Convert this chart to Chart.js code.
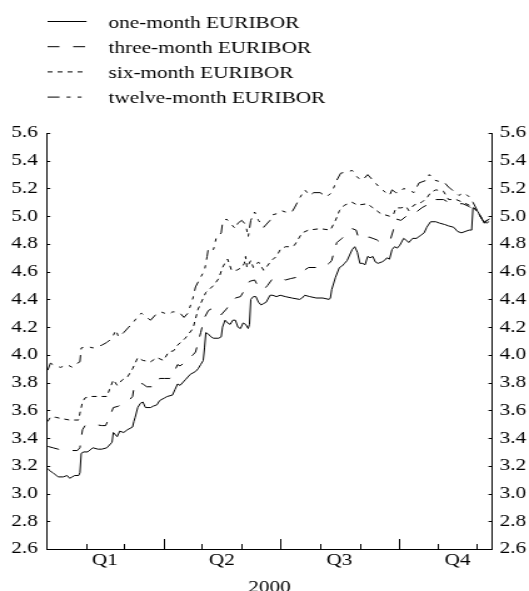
<!DOCTYPE html>
<html>
<head>
<meta charset="utf-8">
<script src="https://cdn.jsdelivr.net/npm/chart.js@4"></script>
<style>
html, body { margin: 0; padding: 0; background: #fff; }
</style>
</head>
<body>
<!-- drawn at 423px wide, shown at 529px: the reference figure is stretched sideways -->
<canvas id="euribor" width="423" height="591" style="display:block;width:529px;height:591px"></canvas>
<script>
'use strict';

// day of year 2000 (0 = 1 January) and rate in %
const oneMonthDays = [1,3,5,9,13,16,18,20,22,25,26,27,29,32,36,40,43,47,49,51,52,55,57,60,63,67,68,69,71,73,75,77,81,83,86,88,92,94,98,100,102,104,108,112,116,118,120,122,123,124,126,128,130,134,136,137,139,141,143,145,147,149,151,153,155,157,158,159,161,163,165,167,169,171,174,176,179,182,186,191,197,199,201,205,210,215,220,221,222,225,228,230,232,234,236,238,240,242,244,246,248,250,252,254,256,258,261,263,265,267,269,271,273,275,278,281,282,285,288,291,294,296,299,303,306,310,313,317,320,323,326,329,331,332,334,336,339,341,343,345];
const oneMonthRates = [3.18,3.16,3.15,3.12,3.12,3.13,3.11,3.12,3.13,3.13,3.15,3.29,3.30,3.30,3.33,3.32,3.32,3.33,3.35,3.37,3.44,3.41,3.45,3.44,3.46,3.48,3.52,3.55,3.62,3.65,3.66,3.62,3.62,3.63,3.64,3.67,3.69,3.70,3.71,3.75,3.79,3.78,3.82,3.86,3.88,3.90,3.93,3.96,4.05,4.16,4.15,4.13,4.12,4.12,4.13,4.20,4.25,4.23,4.22,4.25,4.25,4.20,4.19,4.23,4.22,4.19,4.22,4.40,4.42,4.42,4.38,4.36,4.37,4.38,4.43,4.43,4.42,4.43,4.42,4.41,4.40,4.41,4.43,4.42,4.41,4.41,4.40,4.41,4.47,4.56,4.63,4.64,4.66,4.68,4.72,4.76,4.78,4.74,4.66,4.66,4.65,4.71,4.70,4.71,4.67,4.66,4.67,4.68,4.70,4.69,4.76,4.78,4.77,4.79,4.84,4.82,4.81,4.84,4.84,4.86,4.88,4.92,4.96,4.96,4.95,4.94,4.93,4.92,4.89,4.88,4.89,4.90,4.90,5.06,5.05,5.03,4.98,4.95,4.97,4.98];

const threeMonthDays = [1,5,9,13,18,24,26,27,28,30,36,43,46,49,52,56,60,64,67,68,72,75,78,83,86,88,92,96,98,100,102,104,108,114,116,120,123,126,130,134,136,140,143,147,151,155,158,162,165,169,172,176,180,183,186,190,195,197,199,204,210,215,220,222,224,226,230,234,238,241,243,248,251,254,257,260,265,268,270,272,276,280,284,288,292,296,299,303,309,313,319,324,329,333,337,341,343,345];
const threeMonthRates = [3.34,3.33,3.32,3.31,3.31,3.31,3.33,3.40,3.46,3.49,3.50,3.49,3.49,3.55,3.62,3.63,3.65,3.67,3.70,3.76,3.80,3.79,3.77,3.77,3.78,3.83,3.83,3.83,3.84,3.89,3.93,3.92,3.95,4.00,4.02,4.16,4.27,4.32,4.34,4.32,4.29,4.33,4.37,4.41,4.42,4.48,4.53,4.54,4.49,4.47,4.50,4.55,4.55,4.55,4.54,4.55,4.56,4.57,4.60,4.63,4.63,4.63,4.66,4.68,4.75,4.81,4.84,4.88,4.91,4.90,4.84,4.84,4.85,4.84,4.83,4.81,4.83,4.84,4.90,4.98,4.97,5.00,5.00,5.03,5.06,5.08,5.12,5.12,5.12,5.10,5.09,5.09,5.07,5.04,5.01,4.95,4.97,4.96];

const sixMonthDays = [1,3,7,12,18,25,26,28,30,35,42,47,49,52,55,59,63,67,71,75,81,86,91,95,99,102,108,114,116,118,124,130,134,137,140,141,144,148,152,154,155,156,159,161,165,169,171,175,179,182,186,189,193,199,204,213,221,225,228,232,238,242,250,254,260,267,270,272,276,280,282,286,292,296,299,303,309,313,319,324,329,333,337,341,345];
const sixMonthRates = [3.52,3.55,3.55,3.54,3.53,3.53,3.58,3.66,3.69,3.70,3.70,3.70,3.75,3.82,3.78,3.82,3.84,3.90,3.98,3.96,3.95,3.98,3.96,4.02,4.03,4.07,4.12,4.19,4.26,4.33,4.45,4.50,4.55,4.63,4.68,4.69,4.61,4.61,4.63,4.66,4.71,4.63,4.68,4.63,4.67,4.61,4.63,4.68,4.71,4.76,4.78,4.78,4.79,4.88,4.90,4.91,4.90,4.97,5.04,5.08,5.10,5.08,5.09,5.06,5.02,5.00,5.01,5.06,5.06,5.07,5.04,5.08,5.10,5.13,5.17,5.19,5.18,5.12,5.12,5.10,5.08,5.06,5.01,4.96,4.98];

const twelveMonthDays = [1,3,7,11,16,20,24,26,27,32,36,43,47,51,54,56,60,64,68,72,74,78,81,85,89,92,95,98,102,104,107,110,114,116,120,123,125,126,130,132,136,137,140,143,147,149,152,155,157,159,162,165,169,174,176,180,183,186,191,193,197,201,205,208,213,218,222,226,229,234,238,242,246,250,254,256,260,267,269,272,275,278,284,286,290,296,298,302,306,310,313,317,321,325,329,332,336,340,343,345];
const twelveMonthRates = [3.89,3.94,3.92,3.91,3.93,3.91,3.94,3.95,4.05,4.06,4.05,4.07,4.09,4.12,4.18,4.13,4.16,4.20,4.24,4.29,4.30,4.27,4.25,4.29,4.31,4.30,4.29,4.31,4.31,4.30,4.27,4.30,4.41,4.49,4.56,4.61,4.71,4.77,4.76,4.84,4.88,4.95,4.98,4.95,4.91,4.95,4.97,4.94,4.85,4.97,5.03,4.97,4.92,4.97,5.01,5.02,5.04,5.03,5.03,5.06,5.13,5.19,5.15,5.17,5.17,5.14,5.17,5.26,5.31,5.32,5.33,5.28,5.26,5.30,5.26,5.24,5.20,5.15,5.19,5.17,5.17,5.20,5.18,5.17,5.24,5.26,5.30,5.26,5.25,5.24,5.21,5.18,5.15,5.17,5.14,5.10,5.03,4.96,4.95,4.97];

const quarterLabels = ['Q1', 'Q2', 'Q3', 'Q4'];
const quarterMid = [45.5, 136.5, 228, 320];
const monthStarts = [31, 60, 91, 121, 152, 182, 213, 244, 274, 305, 335];
const quarterStarts = [91, 182, 274];
const rateTicks = [2.6, 2.8, 3.0, 3.2, 3.4, 3.6, 3.8, 4.0, 4.2, 4.4, 4.6, 4.8, 5.0, 5.2, 5.4, 5.6];

const serif = '"Liberation Serif", "Times New Roman", serif';
Chart.defaults.font.family = serif;
Chart.defaults.font.size = 17;
Chart.defaults.color = '#000';

function points(days, rates) {
    return days.map((d, i) => ({ x: d, y: rates[i] }));
}

// small ticks pointing into the plot, as in the original
const inwardTicks = {
    id: 'inwardTicks',
    afterDraw(chart) {
        const { ctx, chartArea: a, scales } = chart;
        ctx.save();
        ctx.strokeStyle = '#000';
        ctx.lineWidth = 1;
        ctx.beginPath();
        monthStarts.forEach(d => {
            const px = Math.round(scales.x.getPixelForValue(d)) + 0.5;
            const len = quarterStarts.includes(d) ? 10 : 5;
            ctx.moveTo(px, a.bottom);
            ctx.lineTo(px, a.bottom - len);
        });
        rateTicks.forEach(v => {
            const py = Math.round(scales.y.getPixelForValue(v)) + 0.5;
            ctx.moveTo(a.left, py);
            ctx.lineTo(a.left + 3, py);
            ctx.moveTo(a.right, py);
            ctx.lineTo(a.right - 3, py);
        });
        ctx.stroke();
        ctx.restore();
    }
};

// legend as a column in the top left corner
const lineLegend = {
    id: 'lineLegend',
    afterDraw(chart) {
        const ctx = chart.ctx;
        ctx.save();
        ctx.font = '17px ' + serif;
        ctx.fillStyle = '#000';
        ctx.strokeStyle = '#000';
        ctx.lineWidth = 1;
        ctx.textBaseline = 'alphabetic';
        chart.data.datasets.forEach((ds, i) => {
            const yy = 21.5 + i * 25.2;
            ctx.setLineDash(ds.borderDash || []);
            ctx.beginPath();
            ctx.moveTo(38, yy);
            ctx.lineTo(69.2, yy);
            ctx.stroke();
            ctx.fillText(ds.label, 86.8, yy + 6.3);
        });
        ctx.restore();
    }
};

const line = {
    borderColor: '#000',
    borderWidth: 1,
    pointRadius: 0,
    tension: 0,
    fill: false
};

const chart = new Chart(document.getElementById('euribor'), {
    type: 'line',
    data: {
        datasets: [
            { ...line, label: 'one-month EURIBOR', data: points(oneMonthDays, oneMonthRates), borderDash: [] },
            { ...line, label: 'three-month EURIBOR', data: points(threeMonthDays, threeMonthRates), borderDash: [9.5, 11] },
            { ...line, label: 'six-month EURIBOR', data: points(sixMonthDays, sixMonthRates), borderDash: [4, 4] },
            { ...line, label: 'twelve-month EURIBOR', data: points(twelveMonthDays, twelveMonthRates), borderDash: [9.6, 5.6, 3.2, 5.6, 3.2, 5.6] }
        ]
    },
    options: {
        responsive: false,
        animation: false,
        devicePixelRatio: 1,
        layout: { padding: { top: 133, left: 0, right: 0, bottom: 0 } },
        plugins: {
            legend: { display: false },
            tooltip: { enabled: false }
        },
        scales: {
            x: {
                type: 'linear',
                min: 0,
                max: 347,
                afterBuildTicks: s => { s.ticks = quarterMid.map(v => ({ value: v })); },
                afterFit: s => { s.height = 42; },
                grid: { display: false, drawTicks: false },
                border: { display: true, color: '#000', width: 1 },
                ticks: {
                    padding: 1,
                    maxRotation: 0,
                    autoSkip: false,
                    callback: (v, i) => quarterLabels[i]
                },
                title: {
                    display: true,
                    text: '2000',
                    padding: { top: 0, bottom: -6.5 }
                }
            },
            y: {
                position: 'left',
                min: 2.6,
                max: 5.6,
                afterBuildTicks: s => { s.ticks = rateTicks.map(v => ({ value: v })); },
                afterFit: s => { s.width = 37.2; },
                grid: { display: false, drawTicks: false },
                border: { display: true, color: '#000', width: 1 },
                ticks: { padding: 7, callback: v => v.toFixed(1) }
            },
            y2: {
                position: 'right',
                min: 2.6,
                max: 5.6,
                afterBuildTicks: s => { s.ticks = rateTicks.map(v => ({ value: v })); },
                afterFit: s => { s.width = 29.4; },
                grid: { display: false, drawTicks: false },
                border: { display: true, color: '#000', width: 1 },
                ticks: { padding: 6, callback: v => v.toFixed(1) }
            }
        }
    },
    plugins: [inwardTicks, lineLegend]
});
</script>
</body>
</html>
